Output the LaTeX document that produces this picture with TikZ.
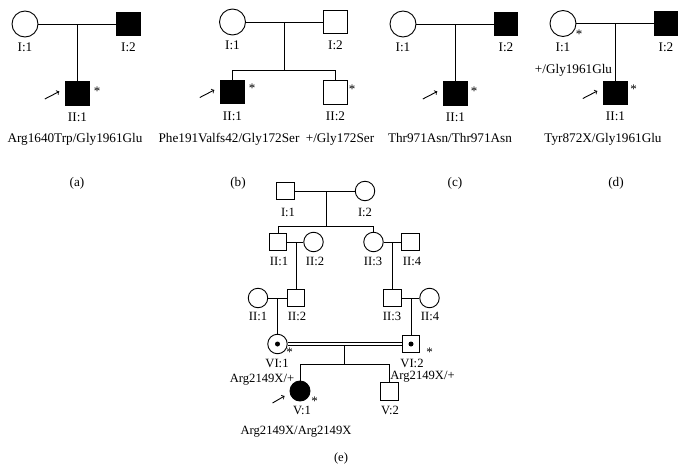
\documentclass[tikz,border=0pt]{standalone}
\usepackage{fontspec}
\setmainfont{Liberation Serif}
\begin{document}
\begin{tikzpicture}[x=1pt,y=-1pt,>=to,line width=0.9pt,
  male/.style={draw,rectangle,minimum size=23.5pt,inner sep=0pt},
  female/.style={draw,circle,minimum size=26pt,inner sep=0pt},
  smale/.style={draw,rectangle,minimum size=17.5pt,inner sep=0pt},
  sfemale/.style={draw,circle,minimum size=19.5pt,inner sep=0pt},
  aff/.style={fill=black},
  carrier/.style={fill=black,circle,minimum size=5pt,inner sep=0pt},
  txt/.style={font=\fontsize{13.2}{15}\selectfont,inner sep=0pt,anchor=base},
  stxt/.style={font=\fontsize{12.6}{14}\selectfont,inner sep=0pt,anchor=base},
  astx/.style={font=\fontsize{13}{14}\selectfont,inner sep=0pt,anchor=north}]

\useasboundingbox (0,0) rectangle (686,471);

% --- Pedigree (a) ---
\node[female] (a11) at (25,24) {};
\node[male,aff] (a12) at (128.5,24) {};
\node[male,aff] (a21) at (77.5,93.5) {};
\coordinate (am) at (77.5,24);
\draw (a11) -- (a12);
\draw (am) -- (a21);
\draw[->] ([shift={(-20.5,5.5)}]a21.west) -- ([shift={(-6,-2)}]a21.west);
\node[astx] (a21s) at (97,87) {*};
\node[txt] (a11l) at (25,51.5) {I:1};
\node[txt] (a12l) at (128.5,51.5) {I:2};
\node[txt] (a21l) at (77.5,121.5) {II:1};
\node[txt] (a21g) at (75,142.5) {Arg1640Trp/Gly1961Glu};
\node[txt] (acap) at (77,186) {(a)};

% --- Pedigree (b) ---
\node[female] (b11) at (232.5,22) {};
\node[male] (b12) at (335.5,22) {};
\node[male,aff] (b21) at (232.5,92) {};
\node[male] (b22) at (335.5,92.5) {};
\coordinate (bm) at (284,22);
\coordinate (bs) at (284,70);
\draw (b11) -- (b12);
\draw (bm) -- (bs);
\draw (b21) -- (b21 |- bs) -- (b22 |- bs) -- (b22);
\draw[->] ([shift={(-20.5,5.5)}]b21.west) -- ([shift={(-6,-2)}]b21.west);
\node[astx] (b21s) at (252,83.5) {*};
\node[astx] (b22s) at (352,84.5) {*};
\node[txt] (b11l) at (232.5,49.5) {I:1};
\node[txt] (b12l) at (335.5,49.5) {I:2};
\node[txt] (b21l) at (232.5,120) {II:1};
\node[txt] (b22l) at (335.5,120) {II:2};
\node[txt] (b21g) at (229,142.5) {Phe191Valfs42/Gly172Ser};
\node[txt] (b22g) at (340,142.5) {+/Gly172Ser};
\node[txt] (bcap) at (238,186) {(b)};

% --- Pedigree (c) ---
\node[female] (c11) at (403,24) {};
\node[male,aff] (c12) at (506,24) {};
\node[male,aff] (c21) at (455.5,93.5) {};
\coordinate (cm) at (455.5,24);
\draw (c11) -- (c12);
\draw (cm) -- (c21);
\draw[->] ([shift={(-20.5,5.5)}]c21.west) -- ([shift={(-6,-2)}]c21.west);
\node[astx] (c21s) at (474,87) {*};
\node[txt] (c11l) at (403,51.5) {I:1};
\node[txt] (c12l) at (506,51.5) {I:2};
\node[txt] (c21l) at (455.5,121.5) {II:1};
\node[txt] (c21g) at (450,142.5) {Thr971Asn/Thr971Asn};
\node[txt] (ccap) at (455,186) {(c)};

% --- Pedigree (d) ---
\node[female] (d11) at (563,23.5) {};
\node[male,aff] (d12) at (666,23.5) {};
\node[male,aff] (d21) at (615.5,93) {};
\coordinate (dm) at (615.5,23.5);
\draw (d11) -- (d12);
\draw (dm) -- (d21);
\draw[->] ([shift={(-20.5,5.5)}]d21.west) -- ([shift={(-6,-2)}]d21.west);
\node[astx] (d11s) at (579,30) {*};
\node[astx] (d21s) at (633.5,85) {*};
\node[txt] (d11l) at (563,51) {I:1};
\node[txt] (d12l) at (666,51) {I:2};
\node[txt] (d11g) at (573.5,73.5) {+/Gly1961Glu};
\node[txt] (d21l) at (615.5,120.5) {II:1};
\node[txt] (d21g) at (603,142.5) {Tyr872X/Gly1961Glu};
\node[txt] (dcap) at (616,186) {(d)};

% --- Pedigree (e) ---
% generation I
\node[smale] (e11) at (285.5,191) {};
\node[sfemale] (e12) at (365,191) {};
% generation II
\node[smale] (e21) at (278,242) {};
\node[sfemale] (e22) at (313.5,242) {};
\node[sfemale] (e23) at (373.5,242) {};
\node[smale] (e24) at (410.5,242) {};
% generation III
\node[sfemale] (e31) at (258,298) {};
\node[smale] (e32) at (296,298) {};
\node[smale] (e33) at (392.5,298) {};
\node[sfemale] (e34) at (429.5,298) {};
% carriers
\node[sfemale] (e41) at (277.5,344) {};
\node[smale] (e42) at (411,344) {};
\node[carrier] (e41d) at (e41) {};
\node[carrier] (e42d) at (e42) {};
% children
\node[sfemale,aff,minimum size=20pt] (e51) at (300,391) {};
\node[smale] (e52) at (389.5,391.5) {};

\coordinate (em1) at (326,191);
\coordinate (es1) at (326,226);
\coordinate (em2) at (296,242);
\coordinate (em3) at (392.5,242);
\coordinate (em4) at (277.5,298);
\coordinate (em5) at (411,298);
\coordinate (em6) at (344,345.5);
\coordinate (es6) at (344,364);

\draw (e11) -- (e12);
\draw (em1) -- (es1);
\draw (e21) -- (e21 |- es1) -- (e23 |- es1) -- (e23);
\draw (e21) -- (e22);
\draw (e23) -- (e24);
\draw (em2) -- (e32);
\draw (em3) -- (e33);
\draw (e31) -- (e32);
\draw (e33) -- (e34);
\draw (em4) -- (e41);
\draw (em5) -- (e42);
\draw[double,double distance=2.2pt] (e41) -- (e42);
\draw (em6) -- (es6);
\draw (e51) -- (e51 |- es6) -- (e52 |- es6) -- (e52);
\draw[->] ([shift={(-17,12)}]e51.west) -- ([shift={(-5,5)}]e51.west);

\node[astx] (e41s) at (289.5,348) {*};
\node[astx] (e42s) at (429.5,348) {*};
\node[astx] (e51s) at (314.5,397) {*};

\node[stxt] (e11l) at (288,216) {I:1};
\node[stxt] (e12l) at (365,216) {I:2};
\node[stxt] (e21l) at (279,265) {II:1};
\node[stxt] (e22l) at (315,265) {II:2};
\node[stxt] (e23l) at (373,265) {II:3};
\node[stxt] (e24l) at (412,265) {II:4};
\node[stxt] (e31l) at (258,320) {II:1};
\node[stxt] (e32l) at (297,320) {II:2};
\node[stxt] (e33l) at (392,320) {II:3};
\node[stxt] (e34l) at (430,320) {II:4};
\node[stxt] (e41l) at (277,367.5) {VI:1};
\node[stxt] (e42l) at (412,367.5) {VI:2};
\node[stxt] (e41g) at (262,382.5) {Arg2149X/+};
\node[stxt] (e42g) at (422.5,379) {Arg2149X/+};
\node[stxt] (e51l) at (302,414) {V:1};
\node[stxt] (e52l) at (390,414) {V:2};
\node[stxt] (e51g) at (296,434) {Arg2149X/Arg2149X};
\node[stxt] (ecap) at (341,461) {(e)};

\end{tikzpicture}
\end{document}
